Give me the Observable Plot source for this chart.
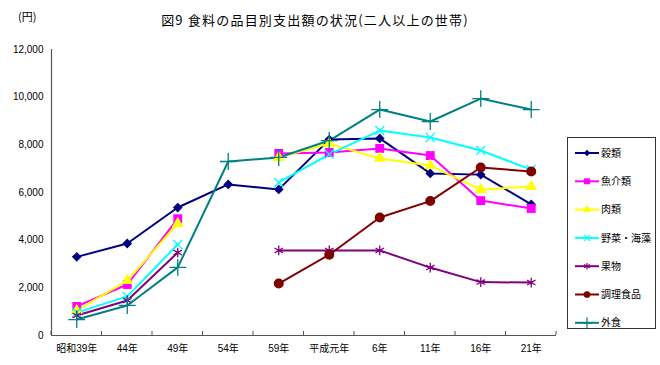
<!DOCTYPE html>
<html><head><meta charset="utf-8">
<script src="https://cdn.jsdelivr.net/npm/d3@7"></script>
<script src="https://cdn.jsdelivr.net/npm/@observablehq/plot@0.6"></script>
<style>
body{margin:0;background:#fff;}
</style>
</head><body>
<div id="chart"></div>
<script>
const labels = ["昭和39年","44年","49年","54年","59年","平成元年","6年","11年","16年","21年"];
const yTicks = [0,2000,4000,6000,8000,10000,12000];
const grain     = [3300,3860,5370,6340,6130,8220,8270,6800,6750,5500];
const fish      = [1220,2140,4900,null,7640,7680,7850,7550,5660,5330];
const meat      = [1050,2300,4700,null,7470,8050,7430,7130,6120,6250];
const veg       = [960,1640,3820,null,6420,7600,8600,8310,7760,6960];
const fruit     = [840,1470,3480,null,3570,3570,3570,2850,2240,2220];
const prepared  = [null,null,null,null,2180,3390,4950,5640,7050,6880];
const eatingOut = [670,1260,2860,7300,7470,8180,9480,8980,9940,9480];

const series = [
  {name:"穀類", values:grain, color:"#000080", symbol:"diamond2", filled:true, r:4.4, d3s:d3.symbolDiamond2},
  {name:"魚介類", values:fish, color:"#FF00FF", symbol:"square", filled:true, r:5, d3s:d3.symbolSquare},
  {name:"肉類", values:meat, color:"#FFFF00", symbol:"triangle", filled:true, r:4.4, d3s:d3.symbolTriangle},
  {name:"野菜・海藻", values:veg, color:"#00FFFF", symbol:"times", filled:false, r:4.2, d3s:d3.symbolTimes},
  {name:"果物", values:fruit, color:"#800080", symbol:"asterisk", filled:false, r:4.6, d3s:d3.symbolAsterisk},
  {name:"調理食品", values:prepared, color:"#800000", symbol:"circle", filled:true, r:5, d3s:d3.symbolCircle},
  {name:"外食", values:eatingOut, color:"#008080", symbol:"plus", filled:false, r:5.5, d3s:d3.symbolPlus}
];

const rows = series.flatMap(s => s.values.map((v,i)=>({name:s.name, i, v: v==null?NaN:v})));

const marks = [];
marks.push(Plot.axisY({ticks:yTicks, tickFormat:d3.format(","), tickSize:4, tickPadding:4, fontSize:10, fill:"#000", stroke:null, label:null}));
marks.push(Plot.axisX({ticks:d3.range(10), tickSize:0, tickPadding:9, tickFormat:i=>labels[i], fontSize:10, label:null}));
marks.push(Plot.ruleX([-0.5], {stroke:"#555", strokeWidth:1.2}));
marks.push(Plot.ruleY([0], {stroke:"#555", strokeWidth:1.2}));
for (const s of series) {
  const data = rows.filter(d=>d.name===s.name);
  marks.push(Plot.line(data, {x:"i", y:"v", stroke:s.color, strokeWidth:2}));
}
for (const s of series) {
  const data = rows.filter(d=>d.name===s.name && isFinite(d.v));
  marks.push(Plot.dot(data, s.filled
    ? {x:"i", y:"v", symbol:s.symbol, fill:s.color, stroke:null, r:s.r}
    : {x:"i", y:"v", symbol:s.symbol, stroke:s.color, strokeWidth:1.3, r:s.r}));
}

const plot = Plot.plot({
  width:660, height:365,
  marginLeft:51, marginRight:104, marginTop:49, marginBottom:30,
  style:{fontFamily:"'Liberation Sans', Arial, 'Noto Sans CJK JP', sans-serif", background:"#fff"},
  x:{domain:[-0.5,9.5], axis:null},
  y:{domain:[0,12000], axis:null},
  marks
});
document.getElementById("chart").appendChild(plot);

const svg = d3.select(plot);
const xs = plot.scale("x"), ys = plot.scale("y");
const tg = svg.append("g").attr("stroke","#555");
d3.range(-0.5,10,1).forEach(v=>{
  const x = xs.apply(v);
  tg.append("line").attr("x1",x).attr("x2",x).attr("y1",ys.apply(0)).attr("y2",ys.apply(0)-4);
});

const jp = "'Noto Sans CJK JP', sans-serif";
svg.append("text").attr("x",18).attr("y",21).attr("font-size",11).attr("text-anchor","start")
  .attr("font-family",jp).text("(円)");
svg.append("text").attr("x",315).attr("y",25).attr("font-size",13).attr("letter-spacing","1.2px")
  .attr("text-anchor","middle").attr("font-family",jp).text("図9 食料の品目別支出額の状況(二人以上の世帯)");

const lg = svg.append("g");
lg.append("rect").attr("x",567.5).attr("y",137.5).attr("width",88).attr("height",191)
  .attr("fill","#fff").attr("stroke","#333");
series.forEach((s,k)=>{
  const y = 153 + k*28.3;
  lg.append("line").attr("x1",575).attr("x2",599).attr("y1",y).attr("y2",y).attr("stroke",s.color).attr("stroke-width",2);
  const sym = d3.symbol(s.d3s, s.r*s.r*Math.PI*0.45)();
  const p = lg.append("path").attr("d",sym).attr("transform",`translate(587,${y})`);
  if (s.filled) p.attr("fill",s.color); else p.attr("fill","none").attr("stroke",s.color).attr("stroke-width",1.2);
  lg.append("text").attr("x",601).attr("y",y).attr("dy","0.36em").attr("font-size",10).attr("text-anchor","start")
    .attr("font-family",jp).text(s.name);
});
</script>
</body></html>
